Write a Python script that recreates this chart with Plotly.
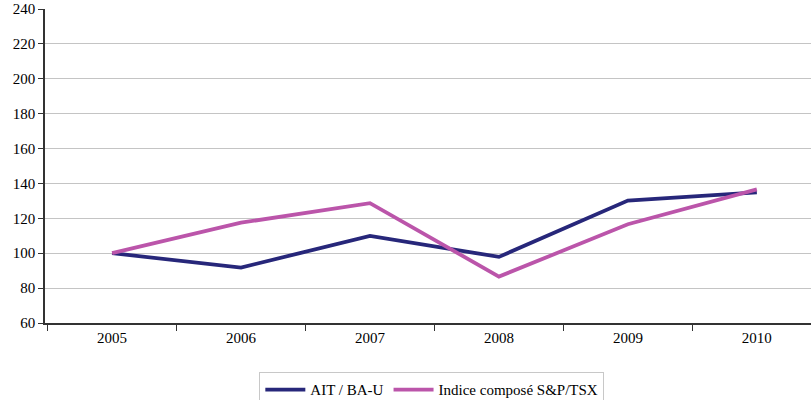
import plotly.graph_objects as go

years = ["2005", "2006", "2007", "2008", "2009", "2010"]
ait = [100, 91.8, 109.9, 97.9, 130.2, 134.9]
tsx = [100, 117.5, 128.7, 86.6, 116.6, 136.6]

FONT = "Times New Roman, Liberation Serif, DejaVu Serif, serif"

fig = go.Figure()
fig.add_trace(go.Scatter(x=years, y=ait, mode="lines", name="AIT / BA-U",
                         line=dict(color="#27277a", width=3.8)))
fig.add_trace(go.Scatter(x=years, y=tsx, mode="lines", name="Indice composé S&P/TSX",
                         line=dict(color="#bb55aa", width=3.8)))

fig.update_layout(
    width=811, height=400,
    margin=dict(l=45, r=0, t=9, b=77, autoexpand=False),
    plot_bgcolor="white", paper_bgcolor="white",
    font=dict(family=FONT, size=15, color="black"),
    showlegend=True,
    legend=dict(orientation="h", x=0.505, xanchor="center", y=-0.157, yanchor="top",
                bordercolor="#c8c8c8", borderwidth=1,
                font=dict(family=FONT, size=15),
                itemwidth=40, tracegroupgap=0),
)
fig.update_xaxes(type="category", range=[-0.52, 5.42], showline=True, linecolor="#333333",
                 linewidth=1.5, ticks="outside", tickson="boundaries", ticklen=6,
                 tickcolor="#333333", showgrid=False, automargin=False,
                 tickfont=dict(family=FONT, size=15))
fig.update_yaxes(range=[60, 240], dtick=20, showline=True, linecolor="#333333", linewidth=1.5,
                 ticks="outside", ticklen=5, tickcolor="#333333", showgrid=True,
                 gridcolor="#c4c4c4", gridwidth=1, zeroline=False, automargin=False,
                 tickfont=dict(family=FONT, size=15))

fig.write_html("out.html", config={"displayModeBar": False},
               post_script="document.body.style.margin='0';document.body.style.overflow='hidden';")
